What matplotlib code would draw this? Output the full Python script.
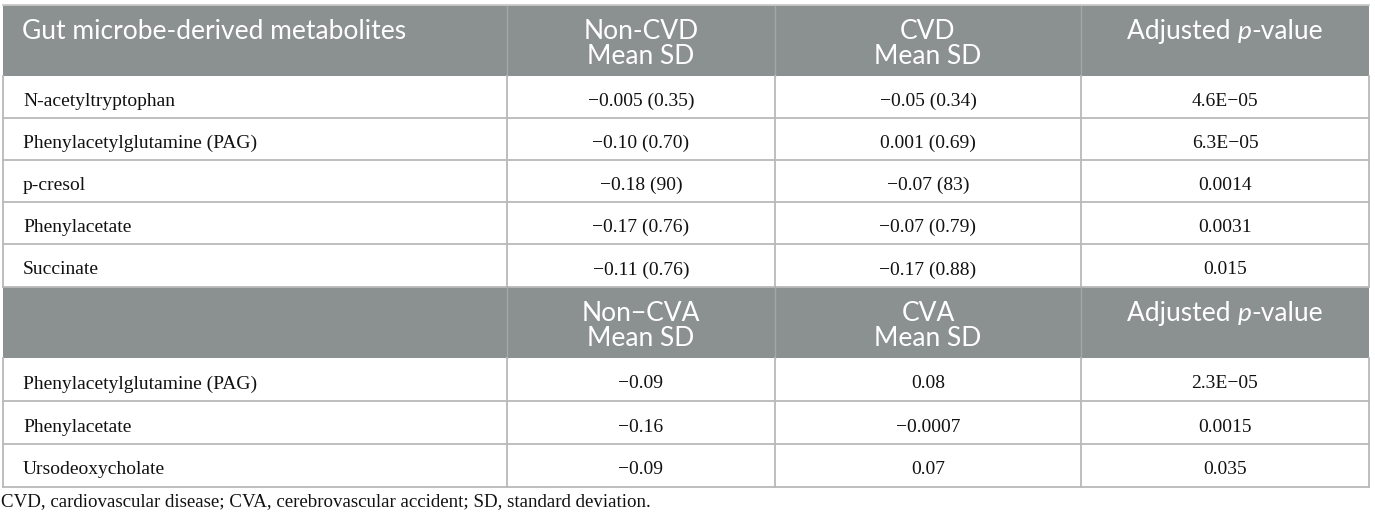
import matplotlib.pyplot as plt
from matplotlib.patches import Rectangle

# table content
metabolites_cvd = ['N-acetyltryptophan', 'Phenylacetylglutamine (PAG)', 'p-cresol',
                   'Phenylacetate', 'Succinate']
non_cvd = ['\u22120.005 (0.35)', '\u22120.10 (0.70)', '\u22120.18 (90)',
           '\u22120.17 (0.76)', '\u22120.11 (0.76)']
cvd = ['\u22120.05 (0.34)', '0.001 (0.69)', '\u22120.07 (83)',
       '\u22120.07 (0.79)', '\u22120.17 (0.88)']
p_cvd = ['4.6E\u221205', '6.3E\u221205', '0.0014', '0.0031', '0.015']

metabolites_cva = ['Phenylacetylglutamine (PAG)', 'Phenylacetate', 'Ursodeoxycholate']
non_cva = ['\u22120.09', '\u22120.16', '\u22120.09']
cva = ['0.08', '\u22120.0007', '0.07']
p_cva = ['2.3E\u221205', '0.0015', '0.035']

header1 = ['Gut microbe-derived metabolites', 'Non-CVD\nMean SD', 'CVD\nMean SD']
header2 = ['', 'Non\u2212CVA\nMean SD', 'CVA\nMean SD']
footnote = 'CVD, cardiovascular disease; CVA, cerebrovascular accident; SD, standard deviation.'

# layout in pixels
col_edges = [3, 507, 775, 1081, 1369]
HEAD_BG = '#8b9091'
LINE = '#b9b9b9'
HEAD_FONT = 'Lato'
BODY_FONT = 'Liberation Serif'
HEAD_SIZE = 19
BODY_SIZE = 14

fig = plt.figure(figsize=(13.75, 5.19), dpi=100)
ax = fig.add_axes([0, 0, 1, 1])
ax.set_xlim(0, 1375)
ax.set_ylim(519, 0)
ax.axis('off')


def header_row(y0, y1, labels):
    ax.add_patch(Rectangle((col_edges[0], y0), col_edges[-1] - col_edges[0], y1 - y0,
                           facecolor=HEAD_BG, edgecolor='none', zorder=1))
    for i, lab in enumerate(labels):
        for k, line in enumerate(lab.split('\n')):
            yb = y0 + 34 + 24.5 * k
            if i == 0:
                ax.text(22, yb, line, ha='left', va='baseline', color='white',
                        fontsize=HEAD_SIZE, family=HEAD_FONT, zorder=3)
            else:
                xc = (col_edges[i] + col_edges[i + 1]) / 2
                ax.text(xc, yb, line, ha='center', va='baseline', color='white',
                        fontsize=HEAD_SIZE, family=HEAD_FONT, zorder=3)
    # "Adjusted p-value" with italic p
    xc = (col_edges[3] + col_edges[4]) / 2
    parts = [('Adjusted ', 'normal'), ('p', 'italic'), ('-value', 'normal')]
    texts = [ax.text(0, y0 + 34, s, ha='left', va='baseline', color='white',
                     fontsize=HEAD_SIZE, family=HEAD_FONT, style=st, zorder=3)
             for s, st in parts]
    fig.canvas.draw()
    inv = ax.transData.inverted()
    widths = []
    for t in texts:
        bb = t.get_window_extent()
        (xa, _), (xb, _) = inv.transform([[bb.x0, bb.y0], [bb.x1, bb.y0]])
        widths.append(xb - xa)
    x = xc - sum(widths) / 2
    for t, w in zip(texts, widths):
        t.set_x(x)
        x += w
    for xe in col_edges[1:-1]:
        ax.plot([xe, xe], [y0, y1], color='#a3a7a8', lw=1.0, zorder=2)


def body_rows(y_edges, names, c1, c2, c3):
    for j, name in enumerate(names):
        yb = (y_edges[j] + y_edges[j + 1]) / 2 + 9
        ax.text(23, yb, name, ha='left', va='baseline', fontsize=BODY_SIZE,
                family=BODY_FONT, color='#111111')
        for i, vals in enumerate([c1, c2, c3], start=1):
            xc = (col_edges[i] + col_edges[i + 1]) / 2
            ax.text(xc, yb, vals[j], ha='center', va='baseline', fontsize=BODY_SIZE,
                    family=BODY_FONT, color='#111111')
        ax.plot([col_edges[0], col_edges[-1]], [y_edges[j + 1]] * 2, color=LINE, lw=1.3)
    for xe in col_edges:
        ax.plot([xe, xe], [y_edges[0], y_edges[-1]], color=LINE, lw=1.3)


header_row(5, 76, header1)
body_rows([76, 118, 160, 202, 244, 287], metabolites_cvd, non_cvd, cvd, p_cvd)
header_row(287, 358, header2)
body_rows([358, 401, 444, 487], metabolites_cva, non_cva, cva, p_cva)

ax.plot([col_edges[0], col_edges[-1]], [5, 5], color='#c8c8c8', lw=1.3)

ax.text(1, 506, footnote, ha='left', va='baseline', fontsize=13.6,
        family=BODY_FONT, color='#111111')

fig.savefig('out.png', dpi=100)
